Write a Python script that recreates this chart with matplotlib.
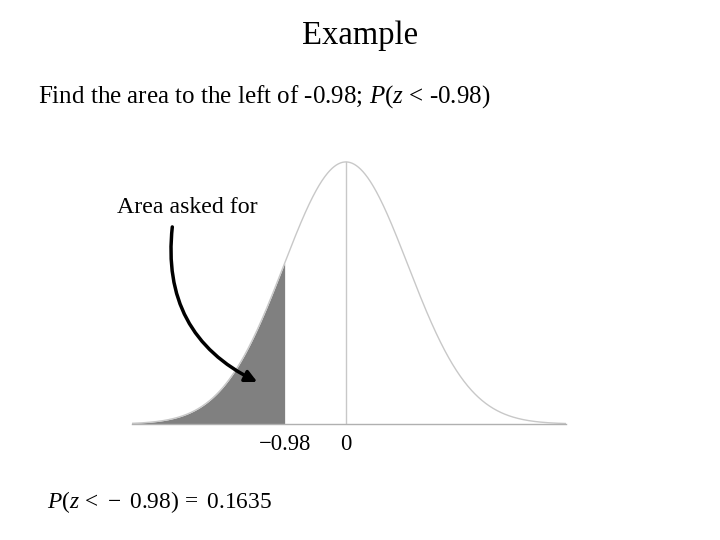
import numpy as np
import matplotlib
matplotlib.use("Agg")
import matplotlib.pyplot as plt

plt.rcParams['font.family'] = ['Liberation Serif', 'DejaVu Serif']
plt.rcParams['mathtext.fontset'] = 'custom'
plt.rcParams['mathtext.rm'] = 'Liberation Serif'
plt.rcParams['mathtext.it'] = 'Liberation Serif:italic'
plt.rcParams['mathtext.bf'] = 'Liberation Serif:bold'

# data
z_cut = -0.98
prob = 0.1635
x_min, x_max = -3.45, 3.55
tick_vals = [-0.98, 0]
tick_labels = ["\u22120.98", "0"]

x = np.linspace(x_min, x_max, 800)
pdf = np.exp(-x**2 / 2) / np.sqrt(2 * np.pi)

fig = plt.figure(figsize=(7.2, 5.4), dpi=100)
ax = fig.add_axes([132/720, 1 - 424/540, 434/720, 275.9/540])
ax.set_xlim(x_min, x_max)
ax.set_ylim(0, 0.42)

ax.plot(x, pdf, color='#c8c8c8', lw=1.0)
mask = x <= z_cut
ax.fill_between(x[mask], 0, pdf[mask], color='#808080', lw=0)
ax.plot([0, 0], [0, 1/np.sqrt(2*np.pi)], color='#c8c8c8', lw=1.0)

for s in ['top', 'right', 'left']:
    ax.spines[s].set_visible(False)
ax.spines['bottom'].set_color('#b0b0b0')
ax.spines['bottom'].set_linewidth(1.0)
ax.set_yticks([])
ax.set_xticks(tick_vals)
ax.set_xticklabels(tick_labels, fontsize=16.3)
ax.tick_params(axis='x', length=0, pad=7)

ax.text(-3.69, 0.33, "Area asked for", fontsize=17.2, ha='left', va='center')
ax.annotate("", xy=(-1.43, 0.064), xytext=(-2.80, 0.300),
            arrowprops=dict(arrowstyle='-|>,head_length=0.7,head_width=0.35',
                            color='black', lw=2.5,
                            connectionstyle='arc3,rad=0.35',
                            shrinkA=0, shrinkB=0))

fig.text(0.5, 1 - 36/540, "Example", fontsize=23.5, ha='center', va='center')
fig.text(38/720, 1 - 97/540,
         "Find the area to the left of -0.98; $P$($z$ < -0.98)",
         fontsize=18, ha='left', va='center')
fig.text(47/720, 1 - 502/540,
         r"$P(z\,<\,-\ 0.98)\,=\ 0.1635$",
         fontsize=16.8, ha='left', va='center')

fig.savefig("out.png", dpi=100)
